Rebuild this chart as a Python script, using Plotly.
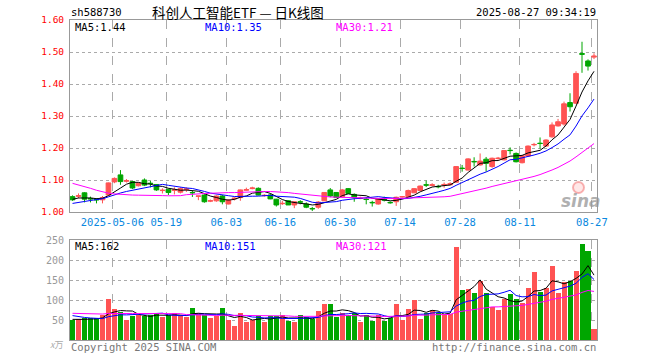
import numpy as np
import pandas as pd
import plotly.graph_objects as go

# ---------------- data ----------------
holidays = ["2025-05-01", "2025-05-02", "2025-05-05", "2025-06-02"]
dates = [d.strftime("%Y-%m-%d") for d in pd.bdate_range("2025-04-22", "2025-08-27")
         if d.strftime("%Y-%m-%d") not in holidays]

opens = [1.048, 1.049, 1.060, 1.042, 1.040, 1.038, 1.053, 1.094, 1.116, 1.096,
         1.095, 1.082, 1.100, 1.090, 1.086, 1.067, 1.071, 1.068, 1.062, 1.070,
         1.061, 1.049, 1.053, 1.034, 1.035, 1.050, 1.025, 1.041, 1.045, 1.068,
         1.073, 1.074, 1.051, 1.053, 1.040, 1.026, 1.035, 1.022, 1.032, 1.025,
         1.011, 1.015, 1.035, 1.069, 1.061, 1.048, 1.073, 1.055, 1.042, 1.040,
         1.030, 1.025, 1.043, 1.030, 1.032, 1.047, 1.048, 1.060, 1.067, 1.085,
         1.083, 1.080, 1.084, 1.085, 1.093, 1.137, 1.131, 1.158, 1.147, 1.165,
         1.142, 1.167, 1.163, 1.193, 1.183, 1.154, 1.175, 1.210, 1.215, 1.206,
         1.235, 1.269, 1.275, 1.342, 1.340, 1.495, 1.472, 1.484]
highs = [1.052, 1.058, 1.062, 1.048, 1.043, 1.050, 1.092, 1.108, 1.131, 1.103,
         1.097, 1.092, 1.105, 1.097, 1.087, 1.074, 1.073, 1.077, 1.077, 1.077,
         1.067, 1.050, 1.055, 1.039, 1.052, 1.053, 1.040, 1.046, 1.070, 1.076,
         1.079, 1.077, 1.056, 1.058, 1.041, 1.035, 1.037, 1.032, 1.037, 1.030,
         1.016, 1.034, 1.061, 1.075, 1.062, 1.072, 1.075, 1.058, 1.048, 1.046,
         1.035, 1.042, 1.048, 1.033, 1.048, 1.050, 1.070, 1.075, 1.083, 1.098,
         1.090, 1.085, 1.092, 1.093, 1.143, 1.147, 1.168, 1.171, 1.183, 1.172,
         1.170, 1.172, 1.193, 1.202, 1.186, 1.178, 1.208, 1.216, 1.233, 1.227,
         1.280, 1.291, 1.345, 1.371, 1.440, 1.532, 1.477, 1.496]
lows = [1.035, 1.043, 1.030, 1.030, 1.027, 1.027, 1.050, 1.090, 1.085, 1.092,
        1.072, 1.080, 1.081, 1.077, 1.066, 1.058, 1.053, 1.055, 1.058, 1.063,
        1.047, 1.037, 1.029, 1.031, 1.032, 1.024, 1.024, 1.036, 1.035, 1.067,
        1.071, 1.052, 1.048, 1.040, 1.017, 1.022, 1.022, 1.012, 1.024, 1.012,
        1.003, 1.010, 1.034, 1.046, 1.044, 1.045, 1.057, 1.032, 1.040, 1.024,
        1.017, 1.023, 1.033, 1.026, 1.019, 1.045, 1.046, 1.059, 1.066, 1.078,
        1.080, 1.074, 1.076, 1.084, 1.092, 1.126, 1.130, 1.142, 1.145, 1.126,
        1.138, 1.164, 1.161, 1.180, 1.155, 1.152, 1.173, 1.205, 1.198, 1.203,
        1.232, 1.267, 1.270, 1.314, 1.337, 1.435, 1.442, 1.478]
closes = [1.038, 1.051, 1.040, 1.041, 1.038, 1.045, 1.091, 1.105, 1.095, 1.098,
          1.075, 1.090, 1.084, 1.089, 1.069, 1.068, 1.061, 1.069, 1.073, 1.072,
          1.060, 1.050, 1.032, 1.035, 1.050, 1.032, 1.037, 1.043, 1.069, 1.070,
          1.075, 1.053, 1.052, 1.041, 1.022, 1.027, 1.022, 1.032, 1.031, 1.015,
          1.010, 1.031, 1.061, 1.050, 1.045, 1.069, 1.058, 1.045, 1.043, 1.039,
          1.029, 1.041, 1.037, 1.029, 1.046, 1.048, 1.067, 1.073, 1.081, 1.084,
          1.085, 1.079, 1.086, 1.088, 1.142, 1.136, 1.166, 1.157, 1.159, 1.152,
          1.168, 1.168, 1.192, 1.192, 1.157, 1.176, 1.206, 1.211, 1.214, 1.225,
          1.272, 1.282, 1.338, 1.329, 1.433, 1.493, 1.456, 1.487]
volumes = [50, 52, 54, 54, 54, 62, 103, 78, 71, 50,
           60, 62, 60, 62, 67, 58, 62, 67, 60, 58,
           81, 68, 62, 54, 60, 81, 50, 36, 68, 46,
           50, 60, 46, 60, 60, 62, 47, 46, 62, 58,
           52, 72, 90, 90, 58, 67, 62, 67, 46, 62,
           47, 62, 47, 56, 90, 50, 77, 100, 52, 67,
           75, 67, 62, 65, 233, 125, 127, 118, 148, 118,
           82, 75, 102, 115, 102, 93, 131, 171, 121, 131,
           186, 118, 146, 148, 172, 241, 223, 27]

# estimated sessions before the visible window (only used to feed the moving averages)
prior_closes = [1.19, 1.21, 1.20, 1.22, 1.21, 1.20, 1.17, 1.15, 1.12, 1.11,
                1.10, 1.11, 1.09, 1.08, 1.07, 1.08, 1.06, 1.07, 0.98, 1.00,
                1.01, 1.02, 1.01, 1.01, 1.02, 1.03, 1.04, 1.04, 1.05]
prior_volumes = [70, 66, 62, 68, 64, 60, 66, 62, 64, 70,
                 62, 60, 66, 64, 62, 66, 64, 65, 130, 100,
                 80, 72, 68, 66, 66, 54, 52, 50, 52]

tick_dates = ["2025-05-06", "2025-05-19", "2025-06-03", "2025-06-16", "2025-06-30",
              "2025-07-14", "2025-07-28", "2025-08-11", "2025-08-27"]
tick_labels = ["2025-05-06", "05-19", "06-03", "06-16", "06-30",
               "07-14", "07-28", "08-11", "08-27"]
price_ticks = [1.00, 1.10, 1.20, 1.30, 1.40, 1.50, 1.60]
vol_ticks = [50, 100, 150, 200, 250]

# ---------------- derived ----------------
n = len(dates)
idx = np.arange(n)


def mov_avg(prior, vals, w):
    s = pd.Series(list(prior) + list(vals), dtype=float)
    return s.rolling(w).mean().to_numpy()[len(prior):]


pma = {w: mov_avg(prior_closes, closes, w) for w in (5, 10, 30)}
vma = {w: mov_avg(prior_volumes, volumes, w) for w in (5, 10, 30)}

RED = "#ff5353"
GREEN = "#00a600"
MA_COL = {5: "#000000", 10: "#0000ff", 30: "#ff00ff"}
vol_colors = [RED if c >= o else GREEN for o, c in zip(opens, closes)]

MONO = "DejaVu Sans Mono"
CJK = "Noto Sans CJK SC"
GRID = "#aaaaaa"
FRAME = "#999999"

W, H = 660, 360
ML, MR, MT, MB = 70, 63, 20, 20


def px(x, y):
    return (x - ML) / (W - ML - MR), (H - MB - y) / (H - MT - MB)


fig = go.Figure()

fig.add_trace(go.Candlestick(
    x=idx, open=opens, high=highs, low=lows, close=closes,
    increasing=dict(line=dict(color=RED, width=1), fillcolor=RED),
    decreasing=dict(line=dict(color=GREEN, width=1), fillcolor=GREEN),
    whiskerwidth=0, hoverinfo="skip", xaxis="x", yaxis="y", showlegend=False))

for w in (5, 10, 30):
    fig.add_trace(go.Scatter(x=idx, y=pma[w], mode="lines",
                             line=dict(color=MA_COL[w], width=1),
                             hoverinfo="skip", xaxis="x", yaxis="y", showlegend=False))

fig.add_trace(go.Bar(x=idx, y=volumes, marker=dict(color=vol_colors, line=dict(width=0)),
                     width=0.84, hoverinfo="skip", xaxis="x2", yaxis="y2", showlegend=False))

for w in (5, 10, 30):
    fig.add_trace(go.Scatter(x=idx, y=vma[w], mode="lines",
                             line=dict(color=MA_COL[w], width=1),
                             hoverinfo="skip", xaxis="x2", yaxis="y2", showlegend=False))

tick_pos = [dates.index(d) - 0.35 for d in tick_dates]
xr = [-0.42, 87.5]

common_x = dict(range=xr, showgrid=True, gridcolor=GRID, griddash="dash", gridwidth=1,
                showline=True, mirror=True, linecolor=FRAME, linewidth=1,
                zeroline=False, ticks="", tickvals=tick_pos, fixedrange=True)

fig.update_layout(
    width=W, height=H,
    margin=dict(l=ML, r=MR, t=MT, b=MB),
    paper_bgcolor="white", plot_bgcolor="white",
    boxgap=0.22, boxgroupgap=0,
    bargap=0,
    xaxis=dict(common_x, domain=[0, 1], anchor="y", ticktext=tick_labels,
               showticklabels=True, tickfont=dict(family=MONO, size=10.5, color="#0a88e0"),
               rangeslider=dict(visible=False)),
    xaxis2=dict(common_x, domain=[0, 1], anchor="y2", showticklabels=False, matches="x"),
    yaxis=dict(domain=[0.4, 1], range=[1.0, 1.6], tickvals=price_ticks,
               ticktext=[f"{v:.2f}" for v in price_ticks],
               tickfont=dict(family=MONO, size=9.5, color="#ff0000"),
               showgrid=True, gridcolor=GRID, griddash="dot", gridwidth=1,
               showline=True, mirror=True, linecolor=FRAME, linewidth=1,
               zeroline=False, ticks="", ticklabelstandoff=3, fixedrange=True, anchor="x"),
    yaxis2=dict(domain=[0, 100 / 320], range=[0, 250], tickvals=vol_ticks,
                ticktext=[str(v) for v in vol_ticks],
                tickfont=dict(family=MONO, size=10, color="#999999"),
                showgrid=True, gridcolor=GRID, griddash="dot", gridwidth=1,
                showline=True, mirror=True, linecolor=FRAME, linewidth=1,
                zeroline=False, ticks="", ticklabelstandoff=3, fixedrange=True, anchor="x2"),
)

anns = []


def ann(x, y, text, color="#000000", size=10, xanchor="left", family=MONO, **kw):
    ax, ay = px(x, y)
    anns.append(dict(x=ax, y=ay, xref="paper", yref="paper", text=text, showarrow=False,
                     xanchor=xanchor, yanchor="middle",
                     font=dict(family=family, size=size, color=color), **kw))


ann(69, 12, "sh588730", size=10.5)
ann(150, 12, "科创人工智能ETF — 日K线图", size=13.5, family=CJK)
ann(598, 12, "2025-08-27 09:34:19", size=10.5, xanchor="right")

ann(73, 27, f"MA5:{pma[5][-1]:.2f}", color=MA_COL[5], size=10.5)
ann(203, 27, f"MA10:{pma[10][-1]:.2f}", color=MA_COL[10], size=10.5)
ann(334, 27, f"MA30:{pma[30][-1]:.2f}", color=MA_COL[30], size=10.5)

ann(73, 246, f"MA5:{vma[5][-1]:.0f}", color=MA_COL[5], size=10.5)
ann(203, 246, f"MA10:{vma[10][-1]:.0f}", color=MA_COL[10], size=10.5)
ann(334, 246, f"MA30:{vma[30][-1]:.0f}", color=MA_COL[30], size=10.5)

ann(69, 347, "Copyright 2025 SINA.COM", color="#777777", size=10.5)
ann(598, 347, "http://finance.sina.com.cn", color="#777777", size=10.5, xanchor="right")
ann(57, 344, "<i>x</i>万", color="#aaaaaa", size=9, xanchor="center", family=CJK)

# sina watermark
ann(581, 201, "<b><i>sina</i></b>", color="rgba(150,150,150,0.75)", size=17,
    xanchor="center", family="DejaVu Sans")
cx0, cy0 = px(573, 182)
cx1, cy1 = px(584, 193)
fig.add_shape(type="circle", xref="paper", yref="paper", x0=cx0, y0=cy1, x1=cx1, y1=cy0,
              line=dict(color="rgba(240,90,90,0.45)", width=2),
              fillcolor="rgba(255,140,140,0.2)", layer="below")

fig.update_layout(annotations=anns)

fig.write_html("out.html", config=dict(displayModeBar=False, staticPlot=True),
               post_script="document.body.style.margin='0';document.body.style.overflow='hidden';")
